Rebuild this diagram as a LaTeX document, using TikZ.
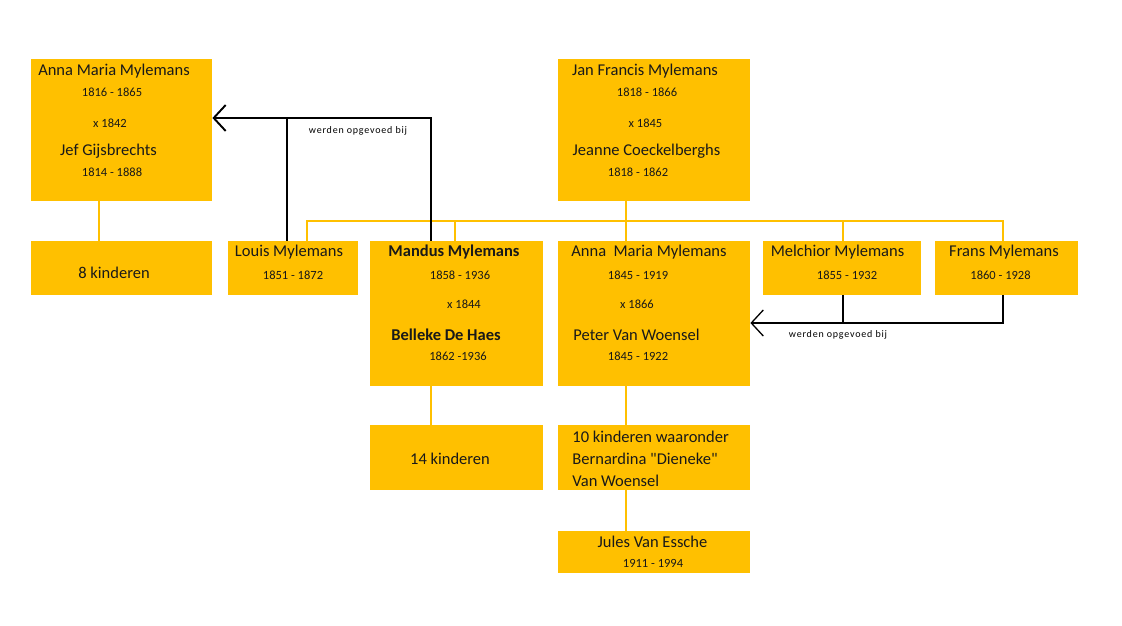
\documentclass[tikz,border=0pt]{standalone}
\usepackage{fontspec}
\setmainfont{Carlito}
\newfontfamily\lblfont[LetterSpace=8]{Carlito}
\usetikzlibrary{arrows.meta,positioning}
\definecolor{gold}{HTML}{FFC000}

\begin{document}
\begin{tikzpicture}[x=1pt, y=-1pt, thick]

	\tikzstyle{famblock}=[rectangle, fill=gold, draw=none, inner sep=0pt]
	\tikzstyle{pname}=[inner sep=0pt, text=black!90, font=\fontsize{16.5}{19}\selectfont]
	\tikzstyle{bname}=[inner sep=0pt, text=black!90, font=\fontsize{16.5}{19}\selectfont\bfseries]
	\tikzstyle{yrs}=[inner sep=0pt, text=black!90, font=\fontsize{12.5}{15}\selectfont]
	\tikzstyle{lbl}=[inner sep=0pt, text=black, font={\lblfont\fontsize{10}{12}\selectfont}]
	\tikzstyle{kin}=[gold, line width=1.3pt]
	\tikzstyle{raised}=[black, -{Straight Barb[length=12pt, width=26pt]}]

	\useasboundingbox (0,0) rectangle (1122,626);

	% boxes
	\node[famblock, minimum width=181pt, minimum height=142pt] (fam1) at (121.5,130) {};
	\node[famblock, minimum width=192pt, minimum height=142pt] (fam2) at (654,130) {};
	\node[famblock, minimum width=181pt, minimum height=54pt] (k8) at (121.5,268) {};
	\node[famblock, minimum width=130pt, minimum height=54pt] (louis) at (293,268) {};
	\node[famblock, minimum width=173pt, minimum height=145pt] (mandus) at (456.5,313.5) {};
	\node[famblock, minimum width=192pt, minimum height=145pt] (anna) at (654,313.5) {};
	\node[famblock, minimum width=158pt, minimum height=54pt] (melchior) at (842,268) {};
	\node[famblock, minimum width=143pt, minimum height=54pt] (frans) at (1006.5,268) {};
	\node[famblock, minimum width=173pt, minimum height=65pt] (k14) at (456.5,457.5) {};
	\node[famblock, minimum width=192pt, minimum height=65pt] (k10) at (654,457.5) {};
	\node[famblock, minimum width=192pt, minimum height=42pt] (jules) at (654,552) {};

	% texts
	\node[pname] (t1a) at (114,71) {Anna Maria Mylemans};
	\node[yrs] (t1b) at (112,92) {1816 - 1865};
	\node[yrs] (t1c) at (110,123) {x 1842};
	\node[pname] (t1d) at (108.5,151) {Jef Gijsbrechts};
	\node[yrs] (t1e) at (112,172) {1814 - 1888};

	\node[pname] (t2a) at (645,71) {Jan Francis Mylemans};
	\node[yrs] (t2b) at (647,92) {1818 - 1866};
	\node[yrs] (t2c) at (645.5,123) {x 1845};
	\node[pname] (t2d) at (646.5,151) {Jeanne Coeckelberghs};
	\node[yrs] (t2e) at (638,172) {1818 - 1862};

	\node[pname] (t3) at (114,273) {8 kinderen};

	\node[pname] (t4a) at (289,252) {Louis Mylemans};
	\node[yrs] (t4b) at (293,275) {1851 - 1872};

	\node[bname] (t5a) at (454,252) {Mandus Mylemans};
	\node[yrs] (t5b) at (460,275) {1858 - 1936};
	\node[yrs] (t5c) at (464,304) {x 1844};
	\node[bname] (t5d) at (446,335) {Belleke De Haes};
	\node[yrs] (t5e) at (458,356) {1862 -1936};

	\node[pname] (t6a) at (649,252) {Anna\ \ Maria Mylemans};
	\node[yrs] (t6b) at (638,275) {1845 - 1919};
	\node[yrs] (t6c) at (637,304) {x 1866};
	\node[pname] (t6d) at (636.5,335) {Peter Van Woensel};
	\node[yrs] (t6e) at (638,356) {1845 - 1922};

	\node[pname] (t7a) at (837.5,252) {Melchior Mylemans};
	\node[yrs] (t7b) at (847,275) {1855 - 1932};

	\node[pname] (t8a) at (1004,252) {Frans Mylemans};
	\node[yrs] (t8b) at (1000.5,275) {1860 - 1928};

	\node[pname] (t9) at (450,459) {14 kinderen};

	\node[pname, anchor=west, align=left, font=\fontsize{16.5}{22}\selectfont] (t10) at (572,459)
		{10 kinderen waaronder\\Bernardina \textquotedbl Dieneke\textquotedbl\\Van Woensel};

	\node[pname] (t11a) at (652.5,542) {Jules Van Essche};
	\node[yrs] (t11b) at (653,563) {1911 - 1994};

	% family lines
	\coordinate (bus) at (626,221);
	\draw[kin] ([xshift=-22.5pt]fam1.south) -- ([xshift=-22.5pt]k8.north);
	\draw[kin] ([xshift=-28pt]fam2.south) -- (bus);
	\draw[kin] (bus) -| ([xshift=14pt]louis.north);
	\draw[kin] (bus) -| ([xshift=-1.5pt]mandus.north);
	\draw[kin] (bus) -- ([xshift=-28pt]anna.north);
	\draw[kin] (bus) -| ([xshift=1pt]melchior.north);
	\draw[kin] (bus) -| ([xshift=-3.5pt]frans.north);
	\draw[kin] ([xshift=-25.5pt]mandus.south) -- ([xshift=-25.5pt]k14.north);
	\draw[kin] ([xshift=-28pt]anna.south) -- ([xshift=-28pt]k10.north);
	\draw[kin] ([xshift=-28pt]k10.south) -- ([xshift=-28pt]jules.north);

	% werden opgevoed bij
	\draw[raised, line width=1.9pt] ([xshift=-25.5pt]mandus.north) |- ([yshift=12pt]fam1.east);
	\draw[black, line width=1.9pt] ([xshift=-6pt]louis.north) -- ++(0,-122);
	\node[lbl] (l1) at (358,131) {werden opgevoed bij};

	\draw[raised, line width=1.3pt] ([xshift=-3.5pt]frans.south) |- ([yshift=-9.5pt]anna.east);
	\draw[black, line width=1.3pt] ([xshift=1pt]melchior.south) -- ++(0,29);
	\node[lbl] (l2) at (838,335) {werden opgevoed bij};

\end{tikzpicture}
\end{document}
